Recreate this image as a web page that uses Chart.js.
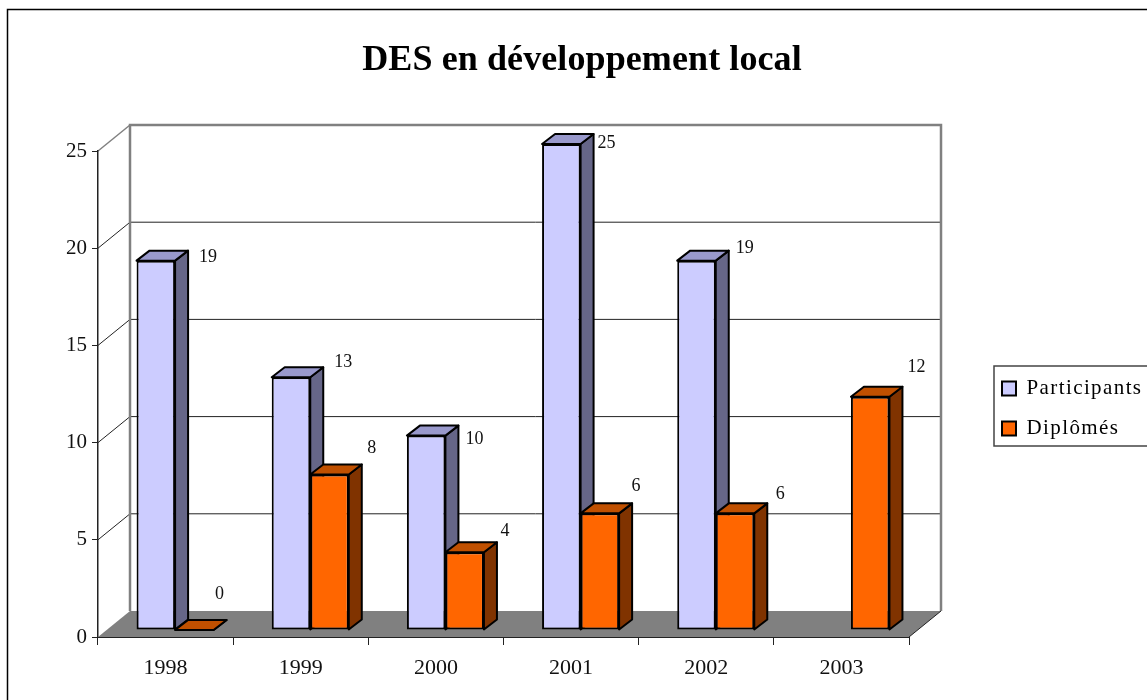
<!DOCTYPE html>
<html>
<head>
<meta charset="utf-8">
<title>DES en développement local</title>
<script src="https://cdn.jsdelivr.net/npm/chart.js@4"></script>
<style>
  html, body { margin: 0; background: #fff; }
  canvas { display: block; }
</style>
</head>
<body>
<canvas id="chart" width="1147" height="700"></canvas>
<script>
const years = ["1998", "1999", "2000", "2001", "2002", "2003"];
const participants = [19, 13, 10, 25, 19, null];
const diplomes = [0, 8, 4, 6, 6, 12];

const serif = "'Liberation Serif', serif";
const legendFont = 21;
const legendPadding = 19;

// fake 3D: wall depth, how far the bars sit in front of it, bar depth
const wall = { x: 32, y: 26 };
const barShift = { x: 9.5, y: -7 };
const barDepth = { x: 13, y: 10 };

const faces = [
  { side: "#666688", top: "#9999cc" },
  { side: "#803300", top: "#c05000" }
];

// where the value labels sit, from the top right corner of each bar
const labelOffsets = [
  [[33, -3], [33, -15], [29, 4], [26, -1], [29, -12], [0, 0]],
  [[6, -36], [23, -26], [21, -21], [17, -27], [26, -19], [27, -29]]
];

function line(ctx, x1, y1, x2, y2) {
  ctx.beginPath();
  ctx.moveTo(x1, y1);
  ctx.lineTo(x2, y2);
  ctx.stroke();
}

function poly(ctx, pts, fill) {
  ctx.beginPath();
  pts.forEach((p, i) => i ? ctx.lineTo(p[0], p[1]) : ctx.moveTo(p[0], p[1]));
  ctx.closePath();
  ctx.fillStyle = fill;
  ctx.fill();
  ctx.stroke();
}

// letter spacing only for one layout box
function spaced(box, px) {
  const draw = box.draw;
  box.draw = function (area) {
    this.ctx.letterSpacing = px + "px";
    draw.call(this, area);
    this.ctx.letterSpacing = "0px";
  };
}

const scene3d = {
  id: "scene3d",
  afterLayout(chart) {
    const legend = chart.legend;
    legend.left = 983;
    legend.right = 1147;
    legend.top = 359;
    legend.bottom = 600;
    chart.titleBlock.left = 17;
    chart.titleBlock.right = 1147;
    if (!chart.$spaced) {
      spaced(chart.titleBlock, 0.1);
      spaced(legend, 1.4);
      chart.$spaced = true;
    }
  },
  beforeDraw(chart) {
    const { ctx, chartArea: a, scales: { y } } = chart;
    ctx.save();

    // outer frame
    ctx.strokeStyle = "#000";
    ctx.lineWidth = 1.5;
    ctx.beginPath();
    ctx.moveTo(7.5, 700);
    ctx.lineTo(7.5, 9.5);
    ctx.lineTo(1147, 9.5);
    ctx.stroke();

    // floor
    ctx.fillStyle = "#808080";
    ctx.beginPath();
    ctx.moveTo(a.left, a.bottom);
    ctx.lineTo(a.left + wall.x, a.bottom - wall.y);
    ctx.lineTo(a.right + wall.x, a.bottom - wall.y);
    ctx.lineTo(a.right, a.bottom);
    ctx.closePath();
    ctx.fill();

    // grid on the side wall and the back wall
    y.ticks.forEach(t => {
      if (t.value === 0 || t.value === y.max) return;
      const py = y.getPixelForValue(t.value);
      ctx.strokeStyle = "#222";
      ctx.lineWidth = 1;
      line(ctx, a.left, py, a.left + wall.x, py - wall.y);
      line(ctx, a.left + wall.x, py - wall.y, a.right + wall.x, py - wall.y);
    });

    // back wall edges
    ctx.strokeStyle = "#808080";
    ctx.lineWidth = 2.5;
    ctx.beginPath();
    ctx.moveTo(a.left + wall.x, a.bottom - wall.y);
    ctx.lineTo(a.left + wall.x, a.top - wall.y);
    ctx.lineTo(a.right + wall.x, a.top - wall.y);
    ctx.lineTo(a.right + wall.x, a.bottom - wall.y);
    ctx.stroke();
    ctx.lineWidth = 1.5;
    line(ctx, a.left, a.top, a.left + wall.x, a.top - wall.y);

    // floor right edge
    ctx.strokeStyle = "#222";
    ctx.lineWidth = 1;
    line(ctx, a.right, a.bottom, a.right + wall.x, a.bottom - wall.y);
    ctx.restore();
  },
  beforeDatasetsDraw(chart) {
    // side and top faces go first, the library's bars cover them where they overlap
    const ctx = chart.ctx;
    ctx.save();
    ctx.strokeStyle = "#000";
    ctx.lineWidth = 2;
    ctx.lineJoin = "round";
    chart.data.datasets.forEach((ds, di) => {
      chart.getDatasetMeta(di).data.forEach((bar, i) => {
        if (ds.data[i] === null) return;
        const l = bar.x - bar.width / 2 + barShift.x;
        const r = bar.x + bar.width / 2 + barShift.x;
        const t = bar.y + barShift.y;
        const b = bar.base + barShift.y;
        const dx = barDepth.x, dy = barDepth.y;
        poly(ctx, [[r, t], [r + dx, t - dy], [r + dx, b - dy], [r, b]], faces[di].side);
        poly(ctx, [[l, t], [l + dx, t - dy], [r + dx, t - dy], [r, t]], faces[di].top);
      });
    });
    ctx.restore();
    ctx.save();
    ctx.translate(barShift.x, barShift.y);
  },
  afterDatasetsDraw(chart) {
    const ctx = chart.ctx;
    ctx.restore();

    ctx.save();
    ctx.font = "18px " + serif;
    ctx.fillStyle = "#111";
    ctx.textAlign = "center";
    ctx.textBaseline = "middle";
    chart.data.datasets.forEach((ds, di) => {
      chart.getDatasetMeta(di).data.forEach((bar, i) => {
        if (ds.data[i] === null) return;
        const off = labelOffsets[di][i];
        const r = bar.x + bar.width / 2 + barShift.x;
        ctx.fillText(ds.data[i], r + off[0], bar.y + barShift.y + off[1]);
      });
    });
    ctx.restore();

    // legend frame
    ctx.save();
    ctx.strokeStyle = "#444";
    ctx.lineWidth = 1.5;
    ctx.beginPath();
    ctx.moveTo(1147, 366);
    ctx.lineTo(994, 366);
    ctx.lineTo(994, 446);
    ctx.lineTo(1147, 446);
    ctx.stroke();
    ctx.restore();
  }
};

// legend takes its width out of the layout, it gets moved afterwards
const canvas = document.getElementById("chart");
const measure = canvas.getContext("2d");
measure.font = legendFont + "px " + serif;
const legendWidth = 14 + legendFont / 2 + measure.measureText("Participants").width + 2 * legendPadding;

new Chart(canvas, {
  type: "bar",
  data: {
    labels: years,
    datasets: [
      {
        label: "Participants",
        data: participants,
        backgroundColor: "#ccccff",
        borderColor: "#000",
        borderWidth: 2,
        borderSkipped: false,
        clip: false
      },
      {
        label: "Diplômés",
        data: diplomes,
        backgroundColor: "#ff6600",
        borderColor: "#000",
        borderWidth: 2,
        borderSkipped: false,
        clip: false
      }
    ]
  },
  plugins: [scene3d],
  options: {
    responsive: false,
    animation: false,
    events: [],
    layout: { padding: { top: 0, left: 0, bottom: 0, right: 247 - legendWidth } },
    datasets: { bar: { categoryPercentage: 0.57, barPercentage: 1 } },
    plugins: {
      tooltip: { enabled: false },
      title: {
        display: true,
        text: "DES en développement local",
        color: "#000",
        font: { family: serif, size: 36, weight: "bold", lineHeight: 1.2 },
        padding: { top: 39, bottom: 68.8 }
      },
      legend: {
        position: "right",
        align: "start",
        labels: {
          color: "#000",
          boxWidth: 14,
          boxHeight: 14,
          padding: legendPadding,
          font: { family: serif, size: legendFont }
        }
      }
    },
    scales: {
      x: {
        afterFit(scale) { scale.height = 63; },
        border: { display: true, color: "#222", width: 1 },
        grid: { offset: true, drawOnChartArea: false, color: "#222", tickLength: 8 },
        ticks: { color: "#111", padding: 10, maxRotation: 0, font: { family: serif, size: 22 } }
      },
      y: {
        min: 0,
        max: 25,
        afterFit(scale) { scale.width = 98; },
        border: { display: true, color: "#222", width: 1.5 },
        grid: { drawOnChartArea: false, color: "#222", tickLength: 6 },
        ticks: { stepSize: 5, color: "#111", padding: 5, font: { family: serif, size: 21 } }
      }
    }
  }
});
</script>
</body>
</html>
